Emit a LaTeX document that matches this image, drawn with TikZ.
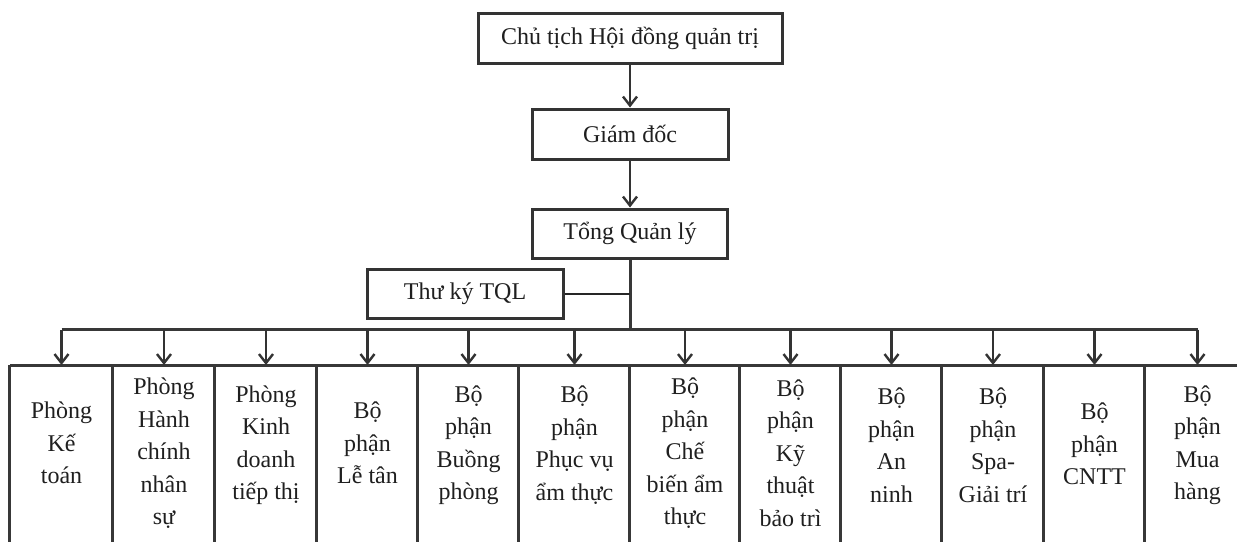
\documentclass[tikz,border=0pt]{standalone}
\usepackage{fontspec}
\setmainfont{Liberation Serif}
\usetikzlibrary{arrows.meta,calc}

\begin{document}
\begin{tikzpicture}[x=1pt,y=-1pt,
  line/.style={draw=black!78, line width=3pt},
  thinline/.style={draw=black!85, line width=2pt},
  arr/.style={draw=black!80, line width=2.4pt, -{Straight Barb[length=9pt,width=14pt,line width=2.4pt]}},
  txt/.style={font=\fontsize{24}{32.5}\selectfont, text=black!88},
  box/.style={txt, rectangle, draw=black!80, line width=3pt, inner sep=0pt},
  dept/.style={txt, rectangle, inner sep=0pt, align=center, anchor=north},
]
\useasboundingbox (0,0) rectangle (1237,541);
\clip (0,0) rectangle (1237,541);

% management chain
\node[box, minimum width=304, minimum height=50] (ct)  at (630,38)    {Chủ tịch Hội đồng quản trị};
\node[box, minimum width=196, minimum height=50] (gd)  at (630,134)   {Giám đốc};
\node[box, minimum width=195, minimum height=49] (tql) at (630,233.5) {Tổng Quản lý};
\node[box, minimum width=196, minimum height=49] (tk)  at (465,293.5) {Thư ký TQL};

% departments
\node[dept, minimum width=103, minimum height=156] (d1)  at (61.5,365)  {Phòng\\Kế\\toán};
\node[dept, minimum width=102, minimum height=176] (d2)  at (164,365)   {Phòng\\Hành\\chính\\nhân\\sự};
\node[dept, minimum width=102, minimum height=160] (d3)  at (266,365)   {Phòng\\Kinh\\doanh\\tiếp thị};
\node[dept, minimum width=101, minimum height=156] (d4)  at (367.5,365) {Bộ\\phận\\Lễ tân};
\node[dept, minimum width=101, minimum height=160] (d5)  at (468.5,365) {Bộ\\phận\\Buồng\\phòng};
\node[dept, minimum width=111, minimum height=160] (d6)  at (574.5,365) {Bộ\\phận\\Phục vụ\\ẩm thực};
\node[dept, minimum width=110, minimum height=176] (d7)  at (685,365)   {Bộ\\phận\\Chế\\biến ẩm\\thực};
\node[dept, minimum width=101, minimum height=176] (d8)  at (790.5,365) {Bộ\\phận\\Kỹ\\thuật\\bảo trì};
\node[dept, minimum width=101, minimum height=160] (d9)  at (891.5,365) {Bộ\\phận\\An\\ninh};
\node[dept, minimum width=102, minimum height=160] (d10) at (993,365)   {Bộ\\phận\\Spa-\\Giải trí};
\node[dept, minimum width=101, minimum height=158] (d11) at (1094.5,365){Bộ\\phận\\CNTT};
\node[dept, minimum width=105, minimum height=160] (d12) at (1197.5,365){Bộ\\phận\\Mua\\hàng};

% department frames: common top edge and side walls running off the page
\draw[line] (d1.north west) -- (d12.north east);
\foreach \i in {1,...,12}
  \draw[line] (d\i.north west) -- ++(0,200);
\draw[line] (d12.north east) -- ++(0,200);

% connectors
\coordinate (bus) at ($(tql.south)+(0,70)$);
\draw[arr] (ct.south) -- (gd.north);
\draw[arr] (gd.south) -- (tql.north);
\draw[line] (tql.south) -- (bus);
\draw[thinline] (tk.east) -- (tk.east -| bus);
\draw[line] (d1.north |- bus) -- (d12.north |- bus);
\foreach \i in {1,...,12}
  \draw[arr] (d\i.north |- bus) -- (d\i.north);
\end{tikzpicture}
\end{document}
